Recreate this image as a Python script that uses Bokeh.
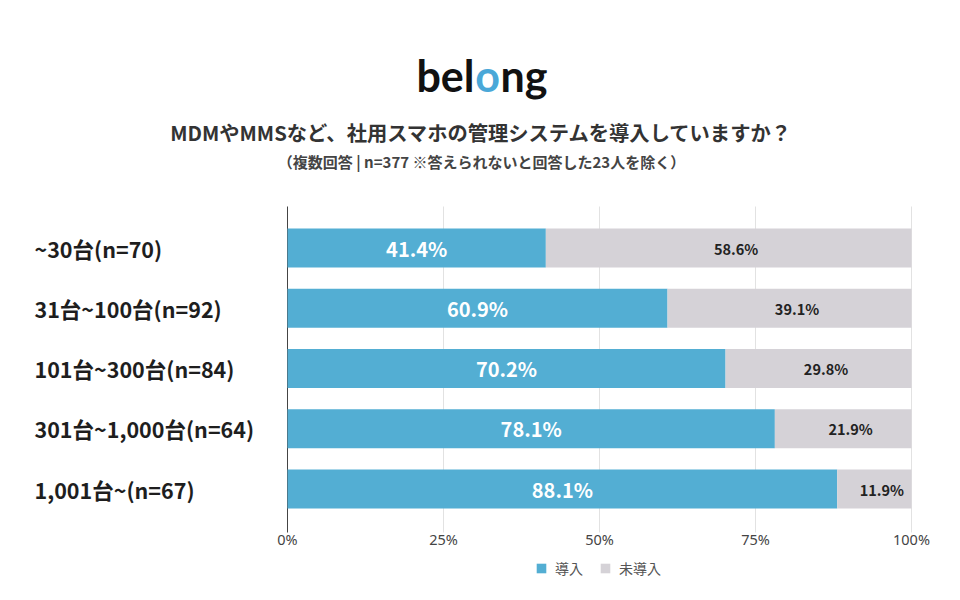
from bokeh.plotting import figure
from bokeh.models import Range1d, FixedTicker, Legend, LegendItem
from bokeh.core.properties import value
from bokeh.embed import file_html
from bokeh.resources import INLINE

# ---- data ----
categories = ["~30台(n=70)", "31台~100台(n=92)", "101台~300台(n=84)",
              "301台~1,000台(n=64)", "1,001台~(n=67)"]
introduced = [41.4, 60.9, 70.2, 78.1, 88.1]
not_introduced = [58.6, 39.1, 29.8, 21.9, 11.9]
series_names = ["導入", "未導入"]
tick_values = [0, 25, 50, 75, 100]
tick_labels = ["0%", "25%", "50%", "75%", "100%"]
title_text = "MDMやMMSなど、社用スマホの管理システムを導入していますか？"
subtitle_text = "（複数回答 | n=377 ※答えられないと回答した23人を除く）"

BLUE = "#53aed3"
GRAY = "#d5d2d7"
JP = "Noto Sans CJK JP"

# ---- screen geometry ----
W, H = 960, 600
GRID_BOTTOM = 532
AXIS_Y = 527
X0, X100 = 287, 911
PX = (X100 - X0) / 100.0
ROW0, ROW_STEP = 247.5, 60.25


def xd(px):
    return (px - X0) / PX


def yd(py):
    return (py - ROW0) / ROW_STEP


p = figure(frame_width=W, frame_height=H,
           output_backend="svg", toolbar_location=None,
           x_range=Range1d(xd(0), xd(W)),
           y_range=Range1d(yd(H), yd(0)),
           y_axis_location=None,
           min_border_left=0, min_border_right=0, min_border_top=0,
           min_border_bottom=0)
p.outline_line_color = None
p.xgrid.visible = False
p.ygrid.visible = False
p.background_fill_color = "white"
p.border_fill_color = "white"

idx = list(range(len(categories)))
totals = [a + b for a, b in zip(introduced, not_introduced)]

# grid lines & axis line
grid_top = yd(206)
p.segment(x0=tick_values[1:], x1=tick_values[1:], y0=[grid_top] * 4,
          y1=[yd(GRID_BOTTOM)] * 4, line_color="#e2e2e2", line_width=1)
p.segment(x0=[tick_values[0]], x1=[tick_values[0]], y0=[grid_top],
          y1=[yd(GRID_BOTTOM)], line_color="#444444", line_width=1)

bar_h = 39 / ROW_STEP
r1 = p.hbar(y=idx, left=0, right=introduced, height=bar_h,
            fill_color=BLUE, line_color=None)
r2 = p.hbar(y=idx, left=introduced, right=totals, height=bar_h,
            fill_color=GRAY, line_color=None)

# value labels
p.text(x=[v / 2 for v in introduced], y=idx,
       text=[f"{v:.1f}%" for v in introduced],
       text_align="center", text_baseline="middle",
       text_font=value(JP), text_font_style="bold",
       text_font_size="20px", text_color="white")
p.text(x=[a + b / 2 + 1.2 for a, b in zip(introduced, not_introduced)], y=idx,
       text=[f"{v:.1f}%" for v in not_introduced],
       text_align="center", text_baseline="middle",
       text_font=value(JP), text_font_style="bold",
       text_font_size="14.5px", text_color="#222222")

# category labels
p.text(x=[xd(34)] * len(categories), y=idx, text=categories,
       text_align="left", text_baseline="middle",
       text_font=value(JP), text_font_style="bold",
       text_font_size="21.5px", text_color="#1e1e1e")

# titles
p.text(x=[xd(481)], y=[yd(131)], text=[title_text],
       text_align="center", text_baseline="middle",
       text_font=value(JP), text_font_style="bold",
       text_font_size="20.3px", text_color="#333333")
p.text(x=[xd(481)], y=[yd(161)], text=[subtitle_text],
       text_align="center", text_baseline="middle",
       text_font=value(JP), text_font_style="bold",
       text_font_size="15px", text_color="#444444")

# logo
LOGO_SIZE = "43px"
p.text(x=[xd(474)], y=[yd(75)], text=["bel"], text_align="right",
       text_baseline="alphabetic", text_font=value("Lato"),
       text_font_style="bold", text_font_size=LOGO_SIZE, text_color="#111111")
p.text(x=[xd(487)], y=[yd(75)], text=["o"], text_align="center",
       text_baseline="alphabetic", text_font=value("Lato"),
       text_font_style="bold", text_font_size=LOGO_SIZE, text_color="#4aa8d8")
p.text(x=[xd(500)], y=[yd(75)], text=["ng"], text_align="left",
       text_baseline="alphabetic", text_font=value("Lato"),
       text_font_style="bold", text_font_size=LOGO_SIZE, text_color="#111111")

# x axis, pinned inside the frame
ax = p.xaxis[0]
ax.fixed_location = yd(AXIS_Y)
ax.ticker = FixedTicker(ticks=tick_values)
ax.major_label_overrides = {v: t for v, t in zip(tick_values, tick_labels)}
ax.axis_line_color = None
ax.major_tick_line_color = None
ax.minor_tick_line_color = None
ax.major_tick_out = 0
ax.major_tick_in = 0
ax.major_label_standoff = 1
ax.major_label_text_font = "Noto Sans"
ax.major_label_text_font_size = "14.5px"
ax.major_label_text_color = "#444444"

legend = Legend(items=[LegendItem(label=series_names[0], renderers=[r1]),
                       LegendItem(label=series_names[1], renderers=[r2])],
                orientation="horizontal", location=(535, 22),
                glyph_width=12, glyph_height=12, label_standoff=8,
                spacing=16, padding=0, margin=0,
                label_text_font=JP, label_text_font_size="14px",
                label_text_color="#555555", border_line_color=None,
                background_fill_alpha=0)
p.add_layout(legend, "center")

open("out.html", "w").write(file_html(p, INLINE))
